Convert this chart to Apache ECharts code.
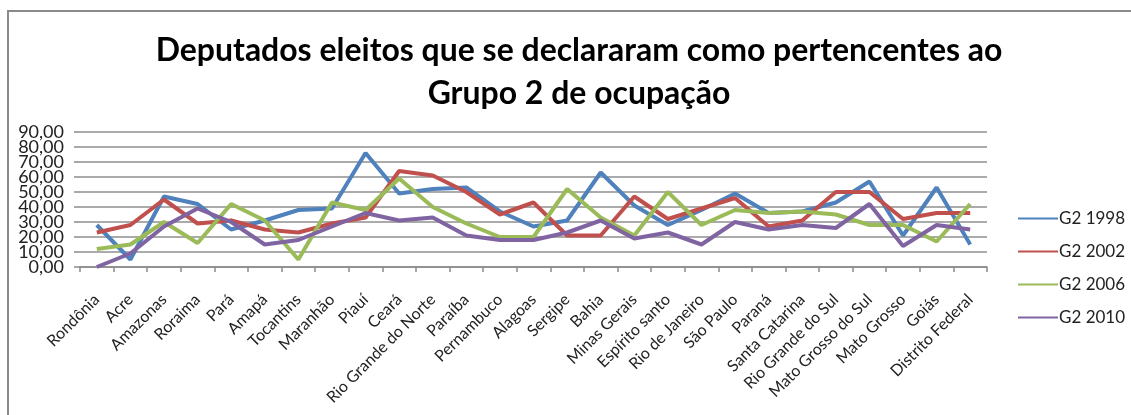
<!DOCTYPE html>
<html>
<head>
<meta charset="utf-8">
<script src="https://cdn.jsdelivr.net/npm/echarts@6/dist/echarts.min.js"></script>
<style>
  html, body { margin: 0; padding: 0; background: #ffffff; }
  #chart { width: 1131px; height: 415px; }
</style>
</head>
<body>
<div id="chart"></div>
<script>
// Estados (eixo X)
const categories = ['Rondônia', 'Acre', 'Amazonas', 'Roraima', 'Pará', 'Amapá', 'Tocantins',
  'Maranhão', 'Piauí', 'Ceará', 'Rio Grande do Norte', 'Paraíba', 'Pernambuco', 'Alagoas',
  'Sergipe', 'Bahia', 'Minas Gerais', 'Espírito santo', 'Rio de Janeiro', 'São Paulo', 'Paraná',
  'Santa Catarina', 'Rio Grande do Sul', 'Mato Grosso do Sul', 'Mato Grosso', 'Goiás',
  'Distrito Federal'];

// Percentual de deputados do Grupo 2 por eleição
const g2_1998 = [28, 5, 47, 42, 25, 31, 38, 39, 76, 49, 52, 53, 37, 27, 31, 63, 41, 28, 38, 49, 36, 37, 43, 57, 21, 53, 15];
const g2_2002 = [23, 28, 45, 29, 31, 25, 23, 29, 33, 64, 61, 50, 35, 43, 21, 21, 47, 32, 39, 46, 27, 31, 50, 50, 32, 36, 36];
const g2_2006 = [12, 15, 30, 16, 42, 31, 5, 43, 38, 59, 40, 29, 20, 20, 52, 33, 21, 50, 28, 38, 36, 37, 35, 28, 28, 17, 42];
const g2_2010 = [0, 9, 27, 39, 30, 15, 18, 27, 36, 31, 33, 21, 18, 18, 23, 31, 19, 23, 15, 30, 25, 28, 26, 42, 14, 28, 25];

const seriesNames = ['G2 1998', 'G2 2002', 'G2 2006', 'G2 2010'];
const seriesData = [g2_1998, g2_2002, g2_2006, g2_2010];
const colors = ['#4f81bd', '#c0504d', '#9bbb59', '#8064a2'];

// Eixo Y: escala e rótulos
const yMin = 0, yMax = 90, yStep = 10;
const yTicks = [0, 10, 20, 30, 40, 50, 60, 70, 80, 90];
const yTickLabels = ['0,00', '10,00', '20,00', '30,00', '40,00', '50,00', '60,00', '70,00', '80,00', '90,00'];

const titleLines = ['Deputados eleitos que se declararam como pertencentes ao', 'Grupo 2 de ocupação'];
const FONT = 'Lato, "Open Sans", sans-serif';

// ajusta o tamanho do título à largura disponível
function fitSize(text, weight, target, maxSize) {
  const ctx = document.createElement('canvas').getContext('2d');
  ctx.font = weight + ' 100px Lato';
  const w = ctx.measureText(text).width;
  return Math.min(maxSize, 100 * target / w);
}
const titleSize = fitSize(titleLines[0], 'bold', 847, 32);

const GRID_LEFT = 80;
const chart = echarts.init(document.getElementById('chart'), null, { renderer: 'canvas' });

chart.setOption({
  animation: false,
  backgroundColor: '#ffffff',
  color: colors,
  textStyle: { fontFamily: FONT },
  title: {
    text: titleLines.join('\n'),
    left: 574,
    textAlign: 'center',
    top: 24,
    textStyle: {
      fontFamily: FONT,
      fontWeight: 'bold',
      fontSize: titleSize,
      lineHeight: 43,
      color: '#000000'
    }
  },
  graphic: [{
    id: 'frame',
    type: 'rect',
    silent: true,
    shape: { x: 8, y: 11, width: 1200, height: 500 },
    style: { fill: 'none', stroke: '#8a8a8a', lineWidth: 2 }
  }],
  legend: {
    orient: 'vertical',
    left: 1013,
    top: 205,
    itemWidth: 40,
    itemHeight: 16,
    itemGap: 16,
    icon: 'path://M0,7 L40,7 L40,9 L0,9 Z',
    data: seriesNames,
    textStyle: { fontFamily: FONT, fontSize: 17, color: '#222222', padding: [0, 0, 0, -4] }
  },
  grid: { left: GRID_LEFT, right: 144, top: 132, bottom: 148, containLabel: false },
  xAxis: {
    type: 'category',
    data: categories,
    boundaryGap: true,
    axisLine: { show: true, lineStyle: { color: '#8a8a8a', width: 1.5 } },
    axisTick: { show: true, interval: 0, length: 5, lineStyle: { color: '#8a8a8a', width: 1.5 } },
    axisLabel: {
      interval: 0,
      rotate: 45,
      margin: 30,
      fontFamily: FONT,
      fontSize: 16,
      color: '#222222'
    }
  },
  yAxis: {
    type: 'value',
    min: yMin,
    max: yMax,
    interval: yStep,
    axisLine: { show: false },
    axisTick: { show: true, length: 6, lineStyle: { color: '#8a8a8a', width: 1.5 } },
    splitLine: { show: true, lineStyle: { color: '#8f8f8f', width: 1.5 } },
    // rótulos compactos desenhados abaixo (o eixo os ocultaria por sobreposição)
    axisLabel: { show: false }
  },
  series: seriesNames.map((name, i) => ({
    name,
    type: 'line',
    data: seriesData[i],
    symbol: 'none',
    lineStyle: { width: 4, color: colors[i] },
    itemStyle: { color: colors[i] }
  }))
});

// rótulos do eixo Y posicionados pela escala do próprio eixo
chart.setOption({
  graphic: yTicks.map((v, i) => ({
    id: 'ylab' + i,
    type: 'text',
    silent: true,
    x: GRID_LEFT - 16,
    y: chart.convertToPixel({ yAxisIndex: 0 }, v),
    style: {
      text: yTickLabels[i],
      font: '18px ' + FONT,
      fill: '#222222',
      align: 'right',
      verticalAlign: 'middle'
    }
  }))
});
</script>
</body>
</html>
